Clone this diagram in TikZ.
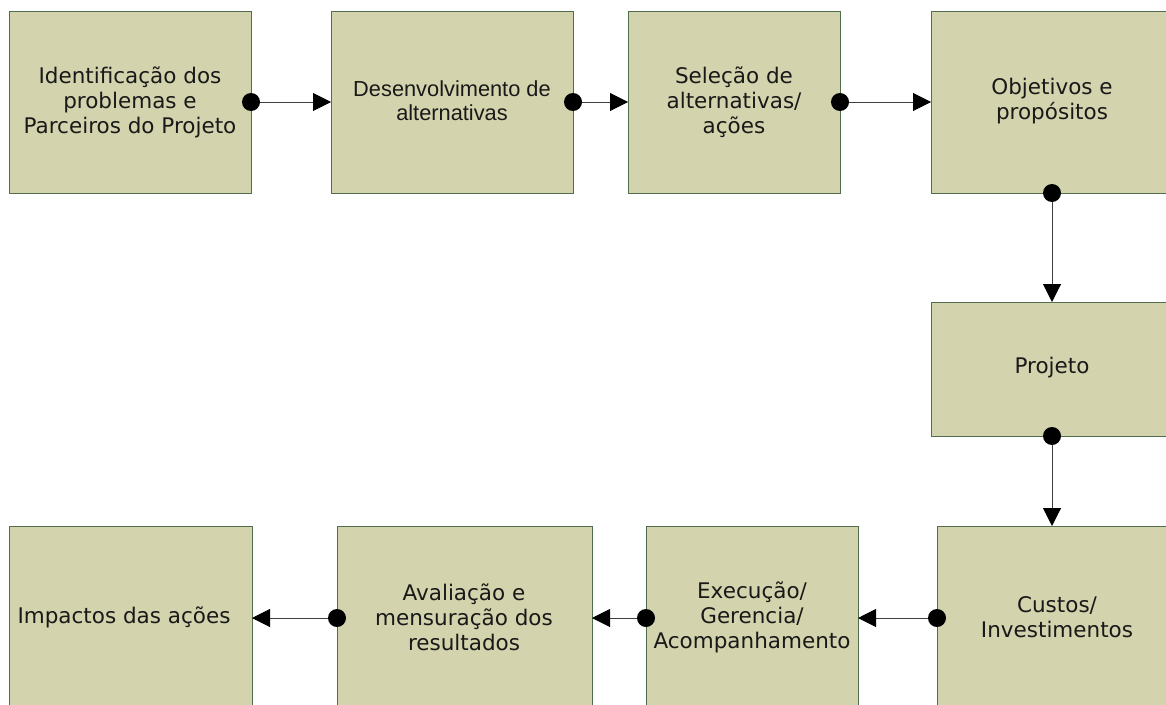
\documentclass[tikz,border=0pt]{standalone}
\usepackage{fontspec}
\setmainfont{DejaVu Sans}
\newfontfamily\arialfont{Liberation Sans}
\usetikzlibrary{arrows.meta}
\definecolor{boxfill}{HTML}{D3D3AD}
\definecolor{boxline}{HTML}{4E6E4E}
\definecolor{conn}{HTML}{404040}
\begin{document}
\begin{tikzpicture}[x=1pt,y=-1pt,
  boxstyle/.style={draw=boxline,fill=boxfill,line width=1pt},
  lbl/.style={align=center,font=\fontsize{21.5}{25}\selectfont,text=black!90},
  connector/.style={draw=conn,line width=1pt,-{Triangle[length=18pt,width=18pt,fill=black,color=black]}},
  dot/.style={fill=black}]
\useasboundingbox (0,0) rectangle (1166,704);
\clip (0,0) rectangle (1166,704);
% boxes
\draw[boxstyle] (9,11) rectangle (251,193);
\node[lbl] (b1) at (130,102) {Identificação dos\\problemas e\\Parceiros do Projeto};
\draw[boxstyle] (331,11) rectangle (573,193);
\node[lbl,font=\arialfont\fontsize{21.8}{24}\selectfont] (b2) at (452,101) {Desenvolvimento de\\alternativas};
\draw[boxstyle] (628,11) rectangle (840,193);
\node[lbl] (b3) at (734,102) {Seleção de\\alternativas/\\ações};
\draw[boxstyle] (931,11) rectangle (1173,193);
\node[lbl] (b4) at (1052,101) {Objetivos e\\propósitos};
\draw[boxstyle] (931,302) rectangle (1173,436);
\node[lbl] (b5) at (1052,368) {Projeto};
\draw[boxstyle] (937,526) rectangle (1177,709);
\node[lbl] (b6) at (1057,617) {Custos/\\Investimentos};
\draw[boxstyle] (646,526) rectangle (858,709);
\node[lbl] (b7) at (752,617) {Execução/\\Gerencia/\\Acompanhamento};
\draw[boxstyle] (337,526) rectangle (592,709);
\node[lbl] (b8) at (464,617) {Avaliação e\\mensuração dos\\resultados};
\draw[boxstyle] (9,526) rectangle (252,709);
\node[lbl] (b9) at (124,617) {Impactos das ações};
% connection points
\coordinate (s1) at (251,102); \coordinate (e1) at (331,102);
\coordinate (s2) at (573,102); \coordinate (e2) at (628,102);
\coordinate (s3) at (840,102); \coordinate (e3) at (931,102);
\coordinate (s4) at (1052,193); \coordinate (e4) at (1052,302);
\coordinate (s5) at (1052,436); \coordinate (e5) at (1052,526);
\coordinate (s6) at (937,618); \coordinate (e6) at (858,618);
\coordinate (s7) at (646,618); \coordinate (e7) at (592,618);
\coordinate (s8) at (337,618); \coordinate (e8) at (252,618);
\foreach \i in {1,...,8}{
  \draw[connector] (s\i) -- (e\i);
  \fill[dot] (s\i) circle (9);
}
\end{tikzpicture}
\end{document}
